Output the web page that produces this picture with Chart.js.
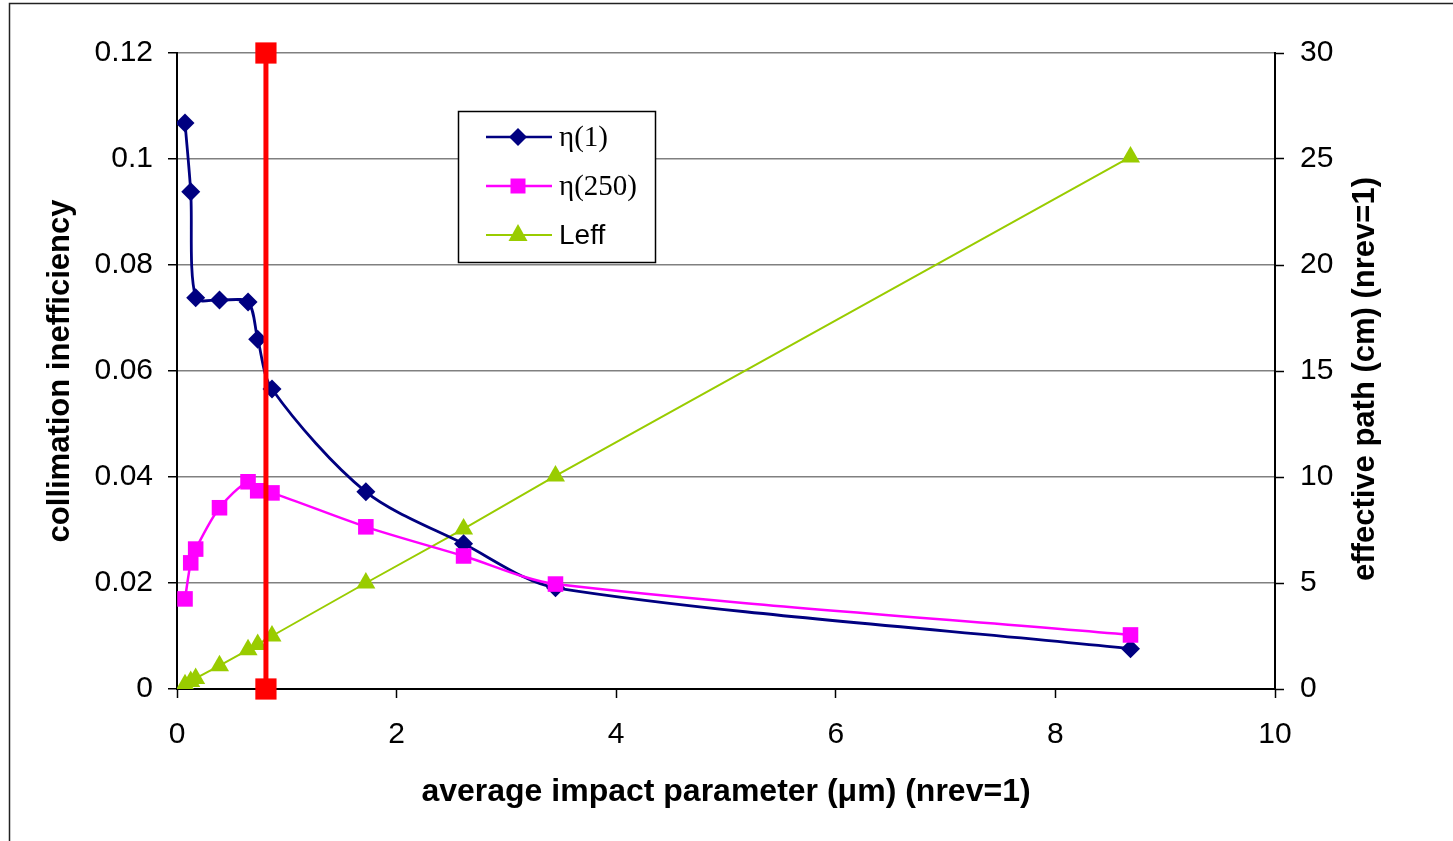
<!DOCTYPE html>
<html>
<head>
<meta charset="utf-8">
<title>collimation inefficiency</title>
<script src="https://cdn.jsdelivr.net/npm/chart.js@4/dist/chart.umd.min.js"></script>
<style>
  html, body { margin: 0; padding: 0; background: #fff; }
  canvas { display: block; }
</style>
</head>
<body>
<canvas id="chart" width="1453" height="841"></canvas>
<script>
// values
const impactParam = [0.073, 0.125, 0.17, 0.387, 0.647, 0.735, 0.865, 1.72, 2.61, 3.447, 8.684];
const eta1 = [0.1068, 0.0938, 0.0738, 0.0734, 0.0730, 0.0660, 0.0566, 0.0372, 0.0274, 0.0191, 0.0076];
const eta250 = [0.0170, 0.0238, 0.0264, 0.0342, 0.0391, 0.0374, 0.0370, 0.0306, 0.0251, 0.0198, 0.0102];
const leff = [0.2, 0.35, 0.5, 1.1, 1.85, 2.1, 2.5, 5.0, 7.55, 10.05, 25.1];
const cutX = [0.81, 0.81];
const cutY = [0, 0.12];

const NAVY = '#000080', MAGENTA = '#FF00FF', GREEN = '#99CC00', RED = '#FF0000';
const SANS = '"Liberation Sans", Arial, sans-serif';
const SERIF = '"Liberation Serif", "Times New Roman", serif';

function pts(xs, ys) {
    return xs.map((x, i) => ({x: x, y: ys[i]}));
}

// outer frame of the chart object
const framePlugin = {
    id: 'frame',
    beforeDraw(chart) {
        const ctx = chart.ctx;
        ctx.save();
        ctx.strokeStyle = '#222';
        ctx.lineWidth = 1.5;
        ctx.strokeRect(9.5, 3.5, 1600, 1000);
        ctx.restore();
    }
};

// right axis title reads bottom to top, like the left one
const rightTitlePlugin = {
    id: 'rightTitle',
    afterDraw(chart) {
        const ctx = chart.ctx;
        const a = chart.chartArea;
        ctx.save();
        ctx.translate(a.right + 90, (a.top + a.bottom) / 2 + 8);
        ctx.rotate(-Math.PI / 2);
        ctx.font = 'bold 31px ' + SANS;
        ctx.fillStyle = '#000';
        ctx.textAlign = 'center';
        ctx.textBaseline = 'middle';
        ctx.fillText('effective path (cm) (nrev=1)', 0, 0);
        ctx.restore();
    }
};

function marker(ctx, style, x, y, color) {
    ctx.fillStyle = color;
    ctx.beginPath();
    if (style === 'diamond') {
        ctx.moveTo(x - 9, y); ctx.lineTo(x, y - 9); ctx.lineTo(x + 9, y); ctx.lineTo(x, y + 9);
    } else if (style === 'square') {
        ctx.rect(x - 7.5, y - 7.5, 15, 15);
    } else {
        ctx.moveTo(x, y - 11); ctx.lineTo(x + 9.5, y + 6); ctx.lineTo(x - 9.5, y + 6);
    }
    ctx.closePath();
    ctx.fill();
}

// legend box: mixed fonts per entry, as in the original
const legendPlugin = {
    id: 'boxLegend',
    afterDatasetsDraw(chart) {
        const ctx = chart.ctx;
        const bx = 458, by = 111, bw = 197, bh = 151;
        const items = [
            {text: 'η(1)', color: NAVY, style: 'diamond', font: SERIF, size: 29, lw: 2.5},
            {text: 'η(250)', color: MAGENTA, style: 'square', font: SERIF, size: 29, lw: 2.5},
            {text: 'Leff', color: GREEN, style: 'triangle', font: SANS, size: 28, lw: 2}
        ];
        ctx.save();
        ctx.fillStyle = '#fff';
        ctx.fillRect(bx, by, bw, bh);
        ctx.strokeStyle = '#000';
        ctx.lineWidth = 1.5;
        ctx.strokeRect(bx + 0.5, by + 0.5, bw, bh);
        items.forEach((it, i) => {
            const y = by + 26 + i * 49;
            ctx.strokeStyle = it.color;
            ctx.lineWidth = it.lw;
            ctx.beginPath();
            ctx.moveTo(bx + 28, y);
            ctx.lineTo(bx + 94, y);
            ctx.stroke();
            marker(ctx, it.style, bx + 60, y, it.color);
            ctx.fillStyle = '#000';
            ctx.font = it.size + 'px ' + it.font;
            ctx.textAlign = 'left';
            ctx.textBaseline = 'middle';
            ctx.fillText(it.text, bx + 101, y + 1);
        });
        ctx.restore();
    }
};

const fmt = v => String(Number(v.toFixed(2)));

new Chart(document.getElementById('chart'), {
    type: 'line',
    data: {
        datasets: [
            {
                label: 'cut',
                data: pts(cutX, cutY),
                borderColor: RED,
                backgroundColor: RED,
                borderWidth: 5,
                pointStyle: 'rect',
                pointRadius: 15,
                pointBorderWidth: 0,
                tension: 0,
                clip: false,
                yAxisID: 'y',
                order: 0
            },
            {
                label: 'η(250)',
                data: pts(impactParam, eta250),
                borderColor: MAGENTA,
                backgroundColor: MAGENTA,
                borderWidth: 2.5,
                pointStyle: 'rect',
                pointRadius: 11,
                pointBorderWidth: 0,
                tension: 0.3,
                yAxisID: 'y',
                order: 1
            },
            {
                label: 'η(1)',
                data: pts(impactParam, eta1),
                borderColor: NAVY,
                backgroundColor: NAVY,
                borderWidth: 2.8,
                pointStyle: 'rectRot',
                pointRadius: 9.5,
                pointBorderWidth: 0,
                tension: 0.3,
                yAxisID: 'y',
                order: 2
            },
            {
                label: 'Leff',
                data: pts(impactParam, leff),
                borderColor: GREEN,
                backgroundColor: GREEN,
                borderWidth: 2,
                pointStyle: 'triangle',
                pointRadius: 11,
                pointBorderWidth: 0,
                tension: 0,
                yAxisID: 'y2',
                order: 3
            }
        ]
    },
    options: {
        responsive: false,
        animation: false,
        events: [],
        layout: {padding: {top: 53, left: 0, right: 0, bottom: 0}},
        plugins: {
            legend: {display: false},
            tooltip: {enabled: false}
        },
        scales: {
            x: {
                type: 'linear',
                min: 0,
                max: 10,
                afterFit: s => { s.height = 152; },
                ticks: {stepSize: 2, color: '#000', padding: 19, maxRotation: 0,
                        font: {family: SANS, size: 30}},
                grid: {drawOnChartArea: false, drawTicks: true, tickLength: 9,
                       tickColor: '#000', tickWidth: 1.5},
                border: {color: '#000', width: 2},
                title: {display: true, text: 'average impact parameter (μm) (nrev=1)',
                        color: '#000', padding: {top: 0, bottom: 30},
                        font: {family: SANS, size: 32, weight: 'bold'}}
            },
            y: {
                type: 'linear',
                position: 'left',
                min: 0,
                max: 0.12,
                afterFit: s => { s.width = 177; },
                ticks: {stepSize: 0.02, color: '#000', padding: 15, callback: fmt,
                        font: {family: SANS, size: 30}},
                grid: {color: '#808080', lineWidth: 1.5, tickLength: 9,
                       tickColor: '#000', tickWidth: 1.5},
                border: {color: '#000', width: 2},
                title: {display: true, text: 'collimation inefficiency', color: '#000',
                        padding: {top: 42, bottom: 0},
                        font: {family: SANS, size: 31, weight: 'bold'}}
            },
            y2: {
                type: 'linear',
                position: 'right',
                min: 0,
                max: 30,
                afterFit: s => { s.width = 178; },
                ticks: {stepSize: 5, color: '#000', padding: 16,
                        font: {family: SANS, size: 30}},
                grid: {drawOnChartArea: false, tickLength: 9,
                       tickColor: '#000', tickWidth: 1.5},
                border: {color: '#000', width: 2}
            }
        }
    },
    plugins: [framePlugin, legendPlugin, rightTitlePlugin]
});
</script>
</body>
</html>
